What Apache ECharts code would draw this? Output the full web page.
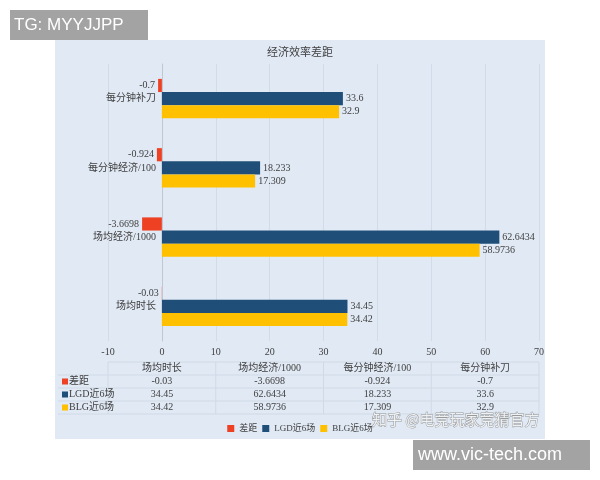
<!DOCTYPE html>
<html>
<head>
<meta charset="utf-8">
<script src="https://cdn.jsdelivr.net/npm/echarts@6/dist/echarts.min.js"></script>
<style>html,body{margin:0;padding:0;background:#fff}#c{width:600px;height:480px}</style>
</head>
<body>
<div id="c"></div>
<script>
const categories = ['场均时长', '场均经济/1000', '每分钟经济/100', '每分钟补刀'];
const seriesNames = ['差距', 'LGD近6场', 'BLG近6场'];
const gapValues = [-0.03, -3.6698, -0.924, -0.7];
const lgdValues = [34.45, 62.6434, 18.233, 33.6];
const blgValues = [34.42, 58.9736, 17.309, 32.9];
const xTicks = { min: -10, max: 70, interval: 10 };
const titleText = '经济效率差距';

const colors = ['#EE4023', '#1F4E79', '#FFC000'];
const FONT = "'Liberation Serif','Noto Sans CJK SC',serif";
const TXT = '#404040';
const G = { left: 108, right: 61, top: 64, bottom: 139 };

const chart = echarts.init(document.getElementById('c'), null, { renderer: 'canvas' });

const allValues = [gapValues, lgdValues, blgValues];
const plotW = 600 - G.left - G.right;
// distance from grid left edge to the x=0 position (so category axis sits on zero)
const zeroOffset = plotW * (0 - xTicks.min) / (xTicks.max - xTicks.min);

const option = {
  animation: false,
  backgroundColor: '#ffffff',
  color: colors,
  title: {
    text: titleText, left: 'center', top: 43,
    textStyle: { fontFamily: FONT, fontSize: 11, fontWeight: 'normal', color: TXT }
  },
  grid: G,
  legend: {
    bottom: 42, left: 'center', itemWidth: 7, itemHeight: 7, itemGap: 5, icon: 'rect',
    textStyle: { fontFamily: FONT, fontSize: 9, color: TXT },
    data: seriesNames
  },
  xAxis: {
    type: 'value', min: xTicks.min, max: xTicks.max, interval: xTicks.interval,
    axisLine: { show: false }, axisTick: { show: false },
    axisLabel: { fontFamily: FONT, fontSize: 10, color: TXT, margin: 6 },
    splitLine: { show: true, lineStyle: { color: '#d2dce8', width: 1 } }
  },
  yAxis: {
    type: 'category', data: categories,
    offset: -zeroOffset,
    axisLine: { show: true, onZero: false, lineStyle: { color: '#bfc8d2' } },
    axisTick: { show: false },
    axisLabel: { fontFamily: FONT, fontSize: 10, color: TXT, margin: 6 }
  },
  series: seriesNames.map((name, i) => ({
    name, type: 'bar', data: allValues[i],
    barGap: '0%', barCategoryGap: '43%',
    itemStyle: { color: colors[i] },
    label: {
      show: true, position: i === 0 ? 'left' : 'right', distance: 3,
      fontFamily: FONT, fontSize: 10, color: TXT,
      formatter: p => String(p.value)
    }
  }))
};

// background panel and data table
const panel = { x: 55, y: 40, w: 490, h: 399 };
const colW = plotW / categories.length;
const rowH = 13;
const tableTop = 362;
const graphics = [];
graphics.push({ type: 'rect', z: -10, silent: true,
  shape: { x: panel.x, y: panel.y, width: panel.w, height: panel.h },
  style: { fill: '#e0e9f4' } });
for (let r = 0; r <= 4; r++) {
  graphics.push({ type: 'line', z: -5, silent: true,
    shape: { x1: r === 0 ? G.left : panel.x + 3, y1: tableTop + r * rowH, x2: G.left + plotW, y2: tableTop + r * rowH },
    style: { stroke: '#d0dae6', lineWidth: 1 } });
}
for (let c = 0; c <= categories.length; c++) {
  graphics.push({ type: 'line', z: -5, silent: true,
    shape: { x1: G.left + c * colW, y1: tableTop, x2: G.left + c * colW, y2: tableTop + 4 * rowH },
    style: { stroke: '#d0dae6', lineWidth: 1 } });
}
categories.forEach((cat, c) => {
  graphics.push({ type: 'text', silent: true,
    style: { text: cat, x: G.left + (c + 0.5) * colW, y: tableTop + rowH / 2, align: 'center', verticalAlign: 'middle',
      font: '10px ' + FONT, fill: TXT } });
});
seriesNames.forEach((name, r) => {
  const cy = tableTop + (r + 1.5) * rowH;
  graphics.push({ type: 'rect', silent: true,
    shape: { x: 62, y: cy - 3, width: 6, height: 6 }, style: { fill: colors[r] } });
  graphics.push({ type: 'text', silent: true,
    style: { text: name, x: 69, y: cy, align: 'left', verticalAlign: 'middle', font: '10px ' + FONT, fill: TXT } });
  allValues[r].forEach((v, c) => {
    graphics.push({ type: 'text', silent: true,
      style: { text: String(v), x: G.left + (c + 0.5) * colW, y: cy, align: 'center', verticalAlign: 'middle',
        font: '10px ' + FONT, fill: TXT } });
  });
});
// watermarks
graphics.push({ type: 'rect', z: 50, silent: true, shape: { x: 10, y: 10, width: 138, height: 30 }, style: { fill: '#a3a3a3' } });
graphics.push({ type: 'text', z: 51, silent: true,
  style: { text: 'TG: MYYJJPP', x: 14, y: 25, verticalAlign: 'middle', font: "17px 'Liberation Sans',sans-serif", fill: '#ffffff' } });
graphics.push({ type: 'rect', z: 50, silent: true, shape: { x: 413, y: 440, width: 177, height: 30 }, style: { fill: '#a3a3a3' } });
graphics.push({ type: 'text', z: 51, silent: true,
  style: { text: 'www.vic-tech.com', x: 418, y: 455, verticalAlign: 'middle', font: "18px 'Liberation Sans',sans-serif", fill: '#ffffff' } });
graphics.push({ type: 'text', z: 51, silent: true,
  style: { text: '知乎 @电竞玩家竞猜官方', x: 372, y: 419, verticalAlign: 'middle', font: "15px 'Noto Sans CJK SC',sans-serif",
    fill: 'rgba(255,255,255,0.85)', stroke: 'rgba(120,120,120,0.7)', lineWidth: 1 } });
option.graphic = graphics;

chart.setOption(option);
</script>
</body>
</html>
